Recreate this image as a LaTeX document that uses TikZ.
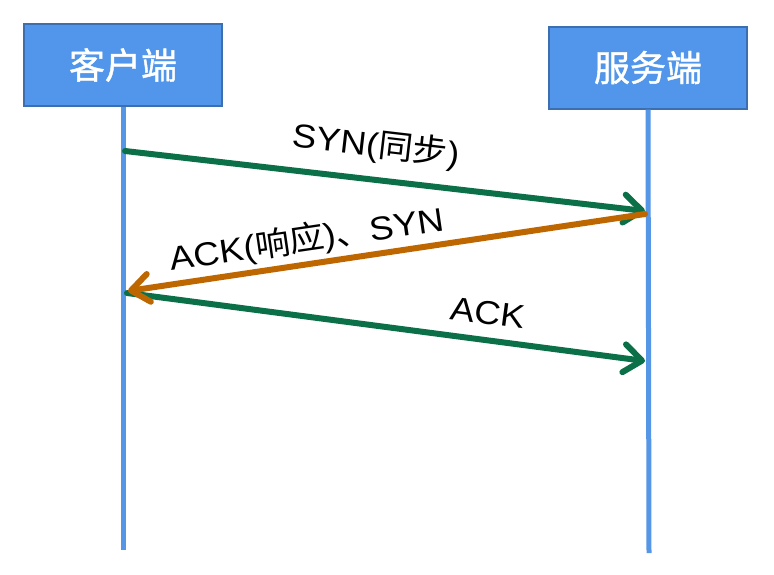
\documentclass[tikz,border=0pt]{standalone}
\usepackage{fontspec}
\setmainfont{Liberation Sans}[FakeStretch=1.1]
\newfontfamily\cjk{Noto Sans CJK SC}[FakeStretch=1.05]
\newfontfamily\cjkb{Noto Sans CJK SC}[FakeBold=1.2]
\usetikzlibrary{arrows.meta}
\definecolor{boxfill}{HTML}{5196EA}
\definecolor{boxline}{HTML}{3B6FAF}
\definecolor{life}{HTML}{5596E6}
\definecolor{ggreen}{HTML}{0B7048}
\definecolor{oorange}{HTML}{BE6600}
\tikzset{
  actor/.style={draw=boxline, line width=2pt, fill=boxfill, minimum width=198pt, minimum height=82pt, inner sep=0pt, text=white, font=\cjkb\fontsize{36}{40}\selectfont},
  lifeline/.style={draw=life, line width=5pt},
  msg/.style={line width=6pt, line cap=round, line join=round, -{Straight Barb[length=18pt,width=28pt,line cap=round,line join=round]}},
  lbl/.style={font=\fontsize{33}{38}\selectfont, inner sep=0pt}
}
\begin{document}
\begin{tikzpicture}[x=1pt,y=-1pt]
\useasboundingbox (0,0) rectangle (774,574);
\fill[white] (0,0) rectangle (774,574);
\node[actor] (client) at (123,65) {客户端};
\node[actor] (server) at (648,67.5) {服务端};
\coordinate (cEnd) at (123,550);
\coordinate (sEnd) at (649,553);
\draw[lifeline] (client.south) -- (cEnd);
\draw[lifeline] (server.south) -- (sEnd);
\coordinate (c1) at (125,151);
\coordinate (s1) at (645,211);
\coordinate (s2) at (645,214);
\coordinate (c2) at (128,291);
\coordinate (c3) at (127,293);
\coordinate (s3) at (645,361);
\draw[msg, ggreen] (c3) -- (s3);
\draw[msg, ggreen] (c1) -- (s1);
\draw[msg, oorange] (s2) -- (c2);
\node[lbl, rotate=-6.65] (l1) at (376,146) {SYN({\cjk 同步})};
\node[lbl, rotate=8.4] (l2) at (307,240) {ACK({\cjk 响应}){\cjk 、}SYN};
\node[lbl, rotate=-7.6] (l3) at (488,313) {ACK};
\end{tikzpicture}
\end{document}
